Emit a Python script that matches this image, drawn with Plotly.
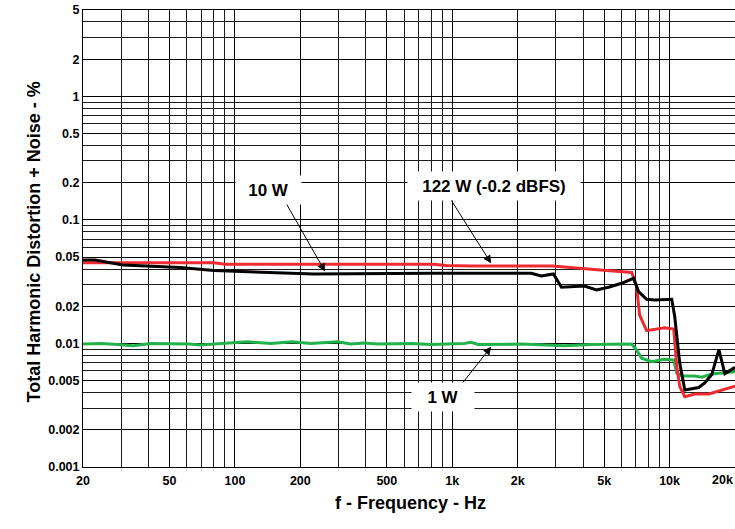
import math
import plotly.graph_objects as go

# ---- data ----
freq_122w = [20, 80, 90, 820, 940, 1220, 2900, 3400, 4500, 6700, 7050, 7280, 7840, 9490, 10450,
             10790, 11140, 11750, 13060, 15160, 20000]
thd_122w = [0.0449, 0.0449, 0.0438, 0.0438, 0.0427, 0.0424, 0.0424, 0.0413, 0.0396, 0.0376, 0.0288,
            0.0170, 0.0127, 0.0134, 0.0131, 0.0065, 0.00447, 0.0037, 0.0039, 0.0039, 0.0045]

freq_10w = [20, 22.7, 30.6, 56, 80, 141, 230, 800, 2310, 2570, 2920, 3180, 3650, 4060, 4610, 5240,
            6010, 6830, 7200, 7840, 8540, 10230, 10560, 11140, 11750, 13620, 14520, 15640, 16860,
            17960, 20000]
thd_10w = [0.0474, 0.0474, 0.0431, 0.0411, 0.0389, 0.0377, 0.0365, 0.0370, 0.0370, 0.0352, 0.0365,
           0.0285, 0.0288, 0.0292, 0.0271, 0.0285, 0.0307, 0.0337, 0.0263, 0.0228, 0.0225, 0.0228,
           0.0165, 0.0069, 0.0042, 0.0044, 0.0048, 0.0056, 0.0089, 0.0057, 0.0064]

freq_1w = [20, 24, 29, 34, 41, 62, 69, 114, 146, 184, 223, 297, 341, 392, 455, 645, 798, 1134, 1222,
           1316, 2078, 2490, 3280, 4370, 6690, 7050, 7430, 8270, 9400, 10450, 10790, 11380, 13060,
           14070, 15640, 20000]
thd_1w = [0.0099, 0.0100, 0.0098, 0.0096, 0.0100, 0.0099, 0.0097, 0.0103, 0.0100, 0.0103, 0.0100,
          0.0103, 0.0099, 0.0101, 0.0099, 0.0100, 0.0098, 0.0100, 0.0102, 0.0098, 0.0099, 0.0098,
          0.0096, 0.0098, 0.0099, 0.00886, 0.00759, 0.00712, 0.00745, 0.00736, 0.00574, 0.00546,
          0.00546, 0.00533, 0.00566, 0.00590]

x_tickvals = [20, 50, 100, 200, 500, 1000, 2000, 5000, 10000]
x_ticktext = ["20", "50", "100", "200", "500", "1k", "2k", "5k", "10k"]
x_last_label = "20k"   # drawn right-aligned at the axis end (as in the reference)
y_tickvals = [0.001, 0.002, 0.005, 0.01, 0.02, 0.05, 0.1, 0.2, 0.5, 1, 2, 5]
y_ticktext = ["0.001", "0.002", "0.005", "0.01", "0.02", "0.05", "0.1", "0.2", "0.5", "1", "2", "5"]

x_minor = [m * 10 ** e for e in range(1, 5) for m in range(1, 10) if 20 <= m * 10 ** e <= 20000]
y_minor = [m * 10 ** e for e in range(-3, 1) for m in range(1, 10) if 0.001 <= m * 10 ** e <= 5]

FONT = "Liberation Sans, Arial, Helvetica, sans-serif"
RED = "#EE2B31"
GREEN = "#22B24C"
BLACK = "#000000"
TICKFONT = dict(family=FONT, size=12.5, color="black", weight="bold")

fig = go.Figure()
fig.add_trace(go.Scatter(x=freq_1w, y=thd_1w, mode="lines", name="1 W",
                         line=dict(color=GREEN, width=3)))
fig.add_trace(go.Scatter(x=freq_122w, y=thd_122w, mode="lines", name="122 W (-0.2 dBFS)",
                         line=dict(color=RED, width=3)))
fig.add_trace(go.Scatter(x=freq_10w, y=thd_10w, mode="lines", name="10 W",
                         line=dict(color=BLACK, width=3)))

L = math.log10

annotations = []
# arrows (tip on curve, tail offset in pixels)
for fx, fy, ax, ay in [(260, 0.0382, -40, -70), (1510, 0.0445, -43, -68), (1510, 0.0094, -30, 38)]:
    annotations.append(dict(x=L(fx), y=L(fy), xref="x", yref="y", text="", showarrow=True,
                            ax=ax, ay=ay, arrowhead=2, arrowsize=1.6, arrowwidth=1,
                            arrowcolor="#000000", standoff=0))
# labels with white boxes
for fx, fy, txt, w in [(143, 0.176, "10 W", 63), (1560, 0.189, "122 W (-0.2 dBFS)", 170),
                       (907, 0.00369, "1 W", 60)]:
    annotations.append(dict(x=L(fx), y=L(fy), xref="x", yref="y", text=txt, showarrow=False,
                            bgcolor="white", width=w, height=26,
                            font=dict(family=FONT, size=17, color="black", weight="bold")))
# last x tick label, kept inside the page
annotations.append(dict(x=1, y=0, xref="paper", yref="paper", xanchor="right", yanchor="top",
                        yshift=-4, text=x_last_label, showarrow=False, font=TICKFONT))
# axis titles
annotations.append(dict(x=0.503, y=-0.105, xref="paper", yref="paper",
                        text="f - Frequency - Hz", showarrow=False,
                        font=dict(family=FONT, size=18, color="black", weight="bold")))
annotations.append(dict(x=-0.0936, y=0.4934, xref="paper", yref="paper", textangle=-90,
                        text="Total Harmonic Distortion + Noise - %", showarrow=False,
                        font=dict(family=FONT, size=18, color="black", weight="bold")))

axis_common = dict(showline=True, linecolor="black", linewidth=1, mirror=True, automargin=False,
                   showgrid=True, gridcolor="#000000", gridwidth=1, zeroline=False,
                   ticks="", tickfont=TICKFONT)

fig.update_layout(
    width=735, height=529,
    margin=dict(l=83, r=0, t=10, b=62),
    paper_bgcolor="white", plot_bgcolor="white",
    showlegend=False,
    annotations=annotations,
    xaxis=dict(type="log", range=[L(20), L(20000)], tickvals=x_tickvals, ticktext=x_ticktext,
               ticklabeloverflow="allow", ticklabelstandoff=2,
               minor=dict(tickvals=x_minor, showgrid=True, gridcolor="#1a1a1a", gridwidth=1, ticks=""),
               **axis_common),
    yaxis=dict(type="log", range=[-3, L(5)], tickvals=y_tickvals, ticktext=y_ticktext,
               ticklabeloverflow="allow", ticklabelstandoff=0,
               minor=dict(tickvals=y_minor, showgrid=True, gridcolor="#1a1a1a", gridwidth=1, ticks=""),
               **axis_common),
)

fig.write_html("out.html", config={"displayModeBar": False},
               post_script="document.body.style.margin='0';document.body.style.overflow='hidden';")
